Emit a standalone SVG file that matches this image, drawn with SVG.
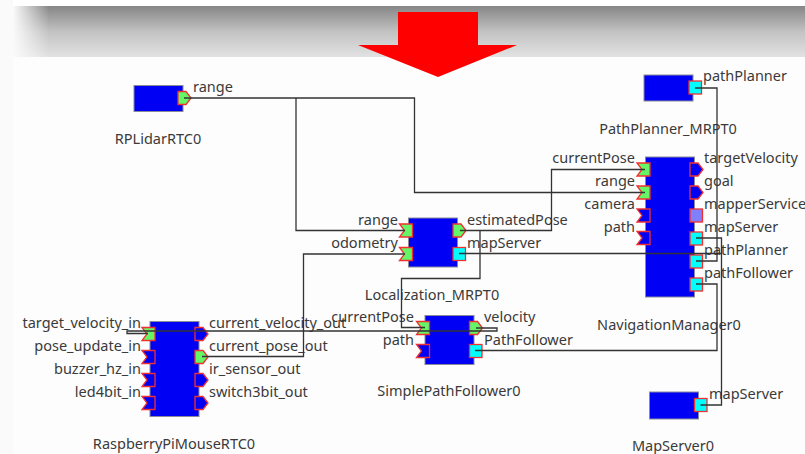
<svg xmlns="http://www.w3.org/2000/svg" width="805" height="454" viewBox="0 0 805 454">
<defs>
<linearGradient id="band" x1="0" y1="0" x2="0" y2="1"><stop offset="0" stop-color="#868686"/><stop offset="0.5" stop-color="#c2c2c2"/><stop offset="1" stop-color="#e2e2e2"/></linearGradient>
<linearGradient id="fade" x1="0" y1="0" x2="1" y2="0"><stop offset="0" stop-color="#fafafa"/><stop offset="1" stop-color="#fafafa" stop-opacity="0"/></linearGradient>
<path id="inp" d="M0 0H13V13H0L5 6.500Z"/>
<path id="outp" d="M0 0H8L13 6.500L8 13H0Z"/>
<rect id="svc" width="12.500" height="13"/>
</defs>
<style>
text{font-family:"Noto Sans","Open Sans","Liberation Sans",sans-serif;font-size:14.500px;fill:#3a3a3a}
.e{text-anchor:end}.m{text-anchor:middle}
.b{fill:#0000f5;stroke:#8a8a9a;stroke-width:1}
.p{stroke:#f03030;stroke-width:1.300}
.on{fill:#66f566}.off{fill:#0000f5}.sv{fill:#00ffff}.mp{fill:#8080ff}
.c{fill:none;stroke:#333;stroke-width:1.300}
</style>
<rect width="805" height="454" fill="#fafafa"/>
<rect x="13" y="0" width="792" height="6" fill="#fff"/>
<rect x="13" y="6" width="792" height="51" fill="url(#band)"/>
<rect x="13" y="6" width="36" height="51" fill="url(#fade)"/>
<rect x="13" y="57" width="792" height="397" fill="#fdfdfd"/>
<polygon points="398,12 478,12 478,45 517,45 438,77 358,45 398,45" fill="#ff0000"/>
<g id="RPLidarRTC0">
<rect class="b" x="134" y="85.500" width="49" height="26"/>
<use href="#outp" x="178" y="91.500" class="p on"/>
<text x="193" y="92">range</text>
<text class="m" x="158" y="144">RPLidarRTC0</text>
</g>
<g id="PathPlanner_MRPT0">
<rect class="b" x="644" y="75" width="49" height="26"/>
<use href="#svc" x="689" y="81" class="p sv"/>
<text x="703" y="81">pathPlanner</text>
<text class="m" x="668" y="134">PathPlanner_MRPT0</text>
</g>
<g id="NavigationManager0">
<rect class="b" x="645.500" y="157" width="49" height="140"/>
<use href="#inp" x="637" y="163" class="p on"/>
<use href="#inp" x="637" y="186" class="p on"/>
<use href="#inp" x="637" y="209" class="p off"/>
<use href="#inp" x="637" y="231.500" class="p off"/>
<use href="#outp" x="690" y="163" class="p off"/>
<use href="#outp" x="690" y="186" class="p off"/>
<use href="#svc" x="690" y="209" class="p mp"/>
<use href="#svc" x="690" y="232" class="p sv"/>
<use href="#svc" x="690" y="255" class="p sv"/>
<use href="#svc" x="690" y="278" class="p sv"/>
<text class="e" x="635" y="163">currentPose</text>
<text class="e" x="635" y="186">range</text>
<text class="e" x="635" y="209">camera</text>
<text class="e" x="635" y="232">path</text>
<text x="704" y="163">targetVelocity</text>
<text x="704" y="186">goal</text>
<text x="704" y="209">mapperService</text>
<text x="704" y="232">mapServer</text>
<text x="704" y="255">pathPlanner</text>
<text x="704" y="278">pathFollower</text>
<text class="m" x="669" y="330">NavigationManager0</text>
</g>
<g id="Localization_MRPT0">
<rect class="b" x="408.500" y="218" width="49" height="49"/>
<use href="#inp" x="399.500" y="224" class="p on"/>
<use href="#inp" x="399.500" y="247.500" class="p on"/>
<use href="#outp" x="453" y="224" class="p on"/>
<use href="#svc" x="453" y="247.500" class="p sv"/>
<text class="e" x="398" y="225">range</text>
<text class="e" x="398" y="248">odometry</text>
<text x="467" y="225">estimatedPose</text>
<text x="467" y="248">mapServer</text>
<text class="m" x="432" y="300">Localization_MRPT0</text>
</g>
<g id="SimplePathFollower0">
<rect class="b" x="425" y="315.500" width="49" height="49"/>
<use href="#inp" x="416.500" y="321.500" class="p on"/>
<use href="#inp" x="416.500" y="344.500" class="p off"/>
<use href="#outp" x="469.500" y="321.500" class="p on"/>
<use href="#svc" x="469.500" y="344.500" class="p sv"/>
<text class="e" x="414" y="322">currentPose</text>
<text class="e" x="414" y="345">path</text>
<text x="484" y="322">velocity</text>
<text x="484" y="345">PathFollower</text>
<text class="m" x="449" y="396">SimplePathFollower0</text>
</g>
<g id="RaspberryPiMouseRTC0">
<rect class="b" x="150" y="321.500" width="49" height="95"/>
<use href="#inp" x="142" y="327.500" class="p on"/>
<use href="#inp" x="142" y="350.500" class="p off"/>
<use href="#inp" x="142" y="373.500" class="p off"/>
<use href="#inp" x="142" y="396.500" class="p off"/>
<use href="#outp" x="195" y="327.500" class="p off"/>
<use href="#outp" x="195" y="350.500" class="p on"/>
<use href="#outp" x="195" y="373.500" class="p off"/>
<use href="#outp" x="195" y="396.500" class="p off"/>
<text class="e" x="141" y="328">target_velocity_in</text>
<text class="e" x="141" y="351">pose_update_in</text>
<text class="e" x="141" y="374">buzzer_hz_in</text>
<text class="e" x="141" y="397">led4bit_in</text>
<text x="209" y="328">current_velocity_out</text>
<text x="209" y="351">current_pose_out</text>
<text x="209" y="374">ir_sensor_out</text>
<text x="209" y="397">switch3bit_out</text>
<text class="m" x="174" y="449">RaspberryPiMouseRTC0</text>
</g>
<g id="MapServer0">
<rect class="b" x="649.500" y="392" width="49" height="27"/>
<use href="#svc" x="694.500" y="398.500" class="p sv"/>
<text x="709" y="399">mapServer</text>
<text class="m" x="673" y="451">MapServer0</text>
</g>
<g id="connectors">
<polyline class="c" points="184,98 414.500,98 414.500,192.500 645,192.500"/>
<polyline class="c" points="296,98 296,230.500 405,230.500"/>
<polyline class="c" points="460,230.500 551.500,230.500 551.500,169.500 645,169.500"/>
<polyline class="c" points="480,230.500 480,278.500 401.500,278.500 401.500,327.500 425,327.500"/>
<polyline class="c" points="405,254 303.500,254 303.500,356.500 202,356.500"/>
<polyline class="c" points="459,253.500 721.500,253.500"/>
<polyline class="c" points="696,238 721.500,238 721.500,405 700.500,405"/>
<polyline class="c" points="695,88 717,88 717,261 696,261"/>
<polyline class="c" points="475,350.500 717,350.500 717,284 696,284"/>
<polyline class="c" points="476,328 497,328 497,331 127,331 127,333.500 148,333.500"/>
</g>
</svg>
